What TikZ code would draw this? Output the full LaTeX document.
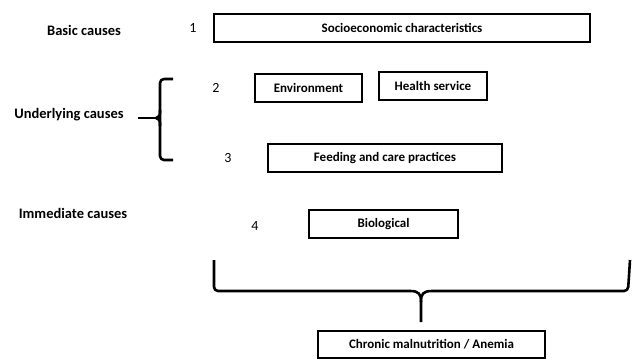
\documentclass[tikz,border=0pt]{standalone}
\usepackage{fontspec}
\setmainfont{Carlito}
\tikzset{
  causebox/.style={draw, line width=1.2pt, minimum height=28pt, inner sep=0pt, font=\bfseries\fontsize{13}{15}\selectfont},
  level/.style={font=\bfseries\fontsize{14.5}{16}\selectfont},
  num/.style={font=\fontsize{14}{16}\selectfont},
  brace/.style={line width=2.6pt, line join=round}
}
\begin{document}
\begin{tikzpicture}[x=1pt, y=-1pt]
        \useasboundingbox (0,0) rectangle (635,360);
        % level labels on the left
        \node[level] (basic) at (84,30) {Basic causes};
        \node[level] (underlying) at (69,115) {Underlying causes};
        \node[level] (immediate) at (73,213) {Immediate causes};
        % numbers
        \node[num] (n1) at (193,28) {1};
        \node[num] (n2) at (216,88) {2};
        \node[num] (n3) at (228,158) {3};
        \node[num] (n4) at (255,226) {4};
        % boxes
        \node[causebox, minimum width=376pt] (socio) at (402,28) {Socioeconomic characteristics};
        \node[causebox, minimum width=107pt] (env) at (308.5,88) {Environment};
        \node[causebox, minimum width=108pt] (health) at (433,86) {Health service};
        \node[causebox, minimum width=234pt] (feeding) at (385,158) {Feeding and care practices};
        \node[causebox, minimum width=149pt] (bio) at (383.5,224) {Biological};
        \node[causebox, minimum width=227pt, minimum height=27pt] (outcome) at (431.5,344.5) {Chronic malnutrition / Anemia};
        % brace for the underlying causes
        \draw[brace, rounded corners=4pt] (173,79) -- (160,79) -- (160,160) -- (173,160);
        \draw[brace] (138,118) -- (158,118);
        \draw[brace] (160,110) .. controls (160,116) .. (156,118) .. controls (160,120) .. (160,126);
        % brace over all levels
        \coordinate (tip) at (421,322);
        \draw[brace, rounded corners=4pt] (214,260) -- (214,291) -- (410,291);
        \draw[brace, rounded corners=4pt] (432,291) -- (628,291) -- (630,260);
        \draw[brace] (410,291) .. controls (419,291) and (421,294) .. (421,302) -- (tip);
        \draw[brace] (432,291) .. controls (423,291) and (421,294) .. (421,302);
\end{tikzpicture}
\end{document}
